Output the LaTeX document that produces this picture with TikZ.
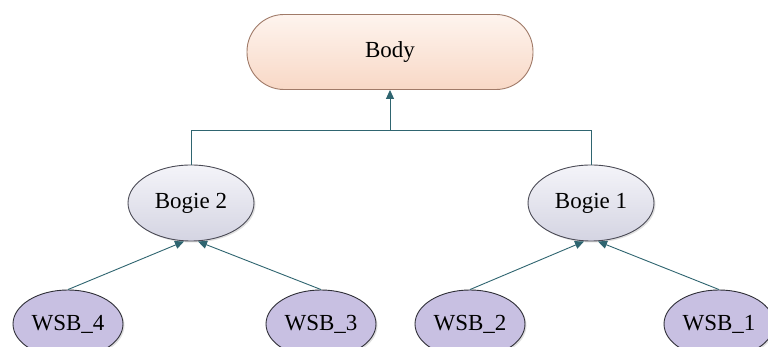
\documentclass[tikz,border=0pt]{standalone}
\usepackage{fontspec}
\setmainfont{Liberation Serif}
\usetikzlibrary{arrows.meta,shadows,shadings,calc,shapes.geometric}
\definecolor{bodyTop}{HTML}{FEF4EE}
\definecolor{bodyBot}{HTML}{F8D8C6}
\definecolor{bodyLine}{HTML}{A07A68}
\definecolor{bogieTop}{HTML}{F4F4F9}
\definecolor{bogieBot}{HTML}{D4D4E2}
\definecolor{bogieLine}{HTML}{4A4A55}
\definecolor{wsbFill}{HTML}{C8C0E2}
\definecolor{wsbLine}{HTML}{303038}
\definecolor{conn}{HTML}{2F6570}
\tikzset{
  x=1pt,y=1pt,
  every node/.style={font=\fontsize{23}{27}\selectfont},
  bodybox/.style={rectangle, rounded corners=37pt, minimum width=286pt, minimum height=75pt,
    top color=bodyTop, bottom color=bodyBot, draw=bodyLine, line width=0.9pt},
  bogiebox/.style={ellipse, minimum width=126pt, minimum height=76pt, inner sep=0pt,
    top color=bogieTop, bottom color=bogieBot, draw=bogieLine, line width=0.9pt,
    drop shadow={opacity=0.25, shadow xshift=1.5pt, shadow yshift=-1.5pt}},
  wsbbox/.style={ellipse, minimum width=110pt, minimum height=68pt, inner sep=0pt,
    fill=wsbFill, draw=wsbLine, line width=0.9pt,
    drop shadow={opacity=0.25, shadow xshift=1.5pt, shadow yshift=-1.5pt}},
  link/.style={draw=conn, line width=0.9pt},
  arr/.style={link, -{Triangle[width=8pt,length=9pt]}},
}
\begin{document}
\begin{tikzpicture}
\useasboundingbox (0,0) rectangle (768,347);
\clip (0,0) rectangle (768,347);
\fill[white] (0,0) rectangle (768,347);
\node[bodybox] (body) at (390,295) {\raisebox{3pt}{Body}};
\node[bogiebox] (b2) at (191,144) {Bogie 2};
\node[bogiebox] (b1) at (591,144) {Bogie 1};
\node[wsbbox] (w4) at (68,23) {WSB\_4};
\node[wsbbox] (w3) at (321,23) {WSB\_3};
\node[wsbbox] (w2) at (470,23) {WSB\_2};
\node[wsbbox] (w1) at (719,23) {WSB\_1};
\coordinate (bus) at (390,217);
\draw[link] (b2.north) -- (b2.north |- bus) -- (b1.north |- bus) -- (b1.north);
\draw[arr] (bus) -- (body.south);
\draw[arr] (w4.north) -- ([xshift=-7pt]b2.south);
\draw[arr] (w3.north) -- ([xshift=7pt]b2.south);
\draw[arr] (w2.north) -- ([xshift=-7pt]b1.south);
\draw[arr] (w1.north) -- ([xshift=7pt]b1.south);
\end{tikzpicture}
\end{document}
